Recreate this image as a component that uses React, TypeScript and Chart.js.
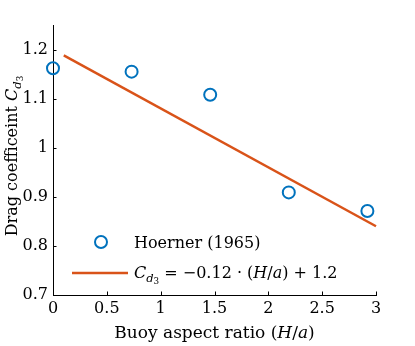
import React, { useEffect, useRef } from "react";
import { Chart, registerables } from "chart.js";

Chart.register(...registerables);

const aspectRatio = [0, 0.73, 1.46, 2.19, 2.92];
const dragCoeff = [1.162, 1.155, 1.108, 0.909, 0.871];
const fitX = [0.1, 3];
const fitY = [1.188, 0.84];
const xTicks = [0, 0.5, 1, 1.5, 2, 2.5, 3];
const yTicks = [0.7, 0.8, 0.9, 1, 1.1, 1.2];

const BLUE = "#0072BD";
const ORANGE = "#D95319";
const FONT = "'DejaVu Serif', 'Liberation Serif', serif";

type Seg = { t: string; it?: boolean; lvl?: number };

function segFont(s: Seg, size: number) {
  const lvl = s.lvl || 0;
  const sz = lvl === 0 ? size : lvl === 1 ? size * 0.72 : size * 0.55;
  return `${s.it ? "italic " : ""}${sz}px ${FONT}`;
}
function segDy(s: Seg, size: number) {
  const lvl = s.lvl || 0;
  return lvl === 0 ? 0 : lvl === 1 ? size * 0.22 : size * 0.36;
}
function richWidth(ctx: CanvasRenderingContext2D, segs: Seg[], size: number) {
  let w = 0;
  for (const s of segs) {
    ctx.font = segFont(s, size);
    w += ctx.measureText(s.t).width;
  }
  return w;
}
function drawRich(
  ctx: CanvasRenderingContext2D,
  segs: Seg[],
  x: number,
  y: number,
  size: number,
  align: "left" | "center"
) {
  let cx = align === "center" ? x - richWidth(ctx, segs, size) / 2 : x;
  ctx.textAlign = "left";
  ctx.textBaseline = "alphabetic";
  ctx.fillStyle = "#000";
  for (const s of segs) {
    ctx.font = segFont(s, size);
    ctx.fillText(s.t, cx, y + segDy(s, size));
    cx += ctx.measureText(s.t).width;
  }
}

const yTitle: Seg[] = [
  { t: "Drag coefficeint " },
  { t: "C", it: true },
  { t: "d", it: true, lvl: 1 },
  { t: "3", lvl: 2 },
];
const xTitle: Seg[] = [
  { t: "Buoy aspect ratio (" },
  { t: "H", it: true },
  { t: "/" },
  { t: "a", it: true },
  { t: ")" },
];
const legend1: Seg[] = [{ t: "Hoerner (1965)" }];
const legend2: Seg[] = [
  { t: "C", it: true },
  { t: "d", it: true, lvl: 1 },
  { t: "3", lvl: 2 },
  { t: " = \u22120.12 \u00b7 (" },
  { t: "H", it: true },
  { t: "/" },
  { t: "a", it: true },
  { t: ") + 1.2" },
];

const decor = {
  id: "decor",
  afterDraw(chart: any) {
    const ctx = chart.ctx as CanvasRenderingContext2D;
    const xs = chart.scales.x;
    const ys = chart.scales.y;
    const area = chart.chartArea;
    ctx.save();
    // inward tick marks
    ctx.strokeStyle = "#000";
    ctx.lineWidth = 1;
    ctx.beginPath();
    for (const v of xTicks) {
      const px = Math.round(xs.getPixelForValue(v)) + 0.5;
      ctx.moveTo(px, area.bottom);
      ctx.lineTo(px, area.bottom - 3.5);
    }
    for (const v of yTicks) {
      const py = Math.round(ys.getPixelForValue(v)) + 0.5;
      ctx.moveTo(area.left, py);
      ctx.lineTo(area.left + 3.5, py);
    }
    ctx.stroke();
    // axis titles
    drawRich(ctx, xTitle, (area.left + area.right) / 2, 338, 17, "center");
    ctx.save();
    ctx.translate(17, 156);
    ctx.rotate(-Math.PI / 2);
    drawRich(ctx, yTitle, 0, 0, 16, "center");
    ctx.restore();
    // legend
    ctx.strokeStyle = BLUE;
    ctx.lineWidth = 2;
    ctx.beginPath();
    ctx.arc(101, 242, 6, 0, Math.PI * 2);
    ctx.stroke();
    drawRich(ctx, legend1, 134, 248, 16, "left");
    ctx.strokeStyle = ORANGE;
    ctx.lineWidth = 2.5;
    ctx.beginPath();
    ctx.moveTo(72, 273);
    ctx.lineTo(128, 273);
    ctx.stroke();
    drawRich(ctx, legend2, 134, 278, 16, "left");
    ctx.restore();
  },
};

export default function App() {
  const ref = useRef<HTMLCanvasElement | null>(null);
  useEffect(() => {
    if (!ref.current) return;
    const chart = new Chart(ref.current, {
      type: "scatter",
      data: {
        datasets: [
          {
            label: "Hoerner (1965)",
            data: aspectRatio.map((x, i) => ({ x, y: dragCoeff[i] })),
            showLine: false,
            pointRadius: 6,
            pointBorderWidth: 2,
            pointBorderColor: BLUE,
            pointBackgroundColor: "rgba(0,0,0,0)",
            clip: false as any,
          },
          {
            label: "fit",
            data: fitX.map((x, i) => ({ x, y: fitY[i] })),
            showLine: true,
            borderColor: ORANGE,
            borderWidth: 2.5,
            pointRadius: 0,
            clip: false as any,
          },
        ],
      },
      options: {
        responsive: false,
        animation: false,
        layout: { padding: { top: 25, right: 39, left: 0, bottom: 0 } },
        plugins: { legend: { display: false }, tooltip: { enabled: false } },
        scales: {
          x: {
            type: "linear",
            min: 0,
            max: 3,
            afterFit: (s: any) => {
              s.height = 51;
            },
            afterBuildTicks: (s: any) => {
              s.ticks = xTicks.map((v) => ({ value: v }));
            },
            ticks: {
              color: "#000",
              padding: 4,
              maxRotation: 0,
              font: { family: FONT, size: 16 },
              callback: (v: any) => String(+Number(v).toFixed(1)),
            },
            grid: { drawOnChartArea: false, drawTicks: false },
            border: { display: true, color: "#000", width: 1 },
          },
          y: {
            type: "linear",
            min: 0.7,
            max: 1.25,
            afterFit: (s: any) => {
              s.width = 53;
            },
            afterBuildTicks: (s: any) => {
              s.ticks = yTicks.map((v) => ({ value: v }));
            },
            ticks: {
              color: "#000",
              padding: 5,
              font: { family: FONT, size: 16 },
              callback: (v: any) => String(+Number(v).toFixed(1)),
            },
            grid: { drawOnChartArea: false, drawTicks: false },
            border: { display: true, color: "#000", width: 1 },
          },
        },
      },
      plugins: [decor],
    });
    return () => chart.destroy();
  }, []);
  return (
    <div style={{ position: "absolute", left: 0, top: 0, width: 415, height: 346, background: "#fff" }}>
      <canvas ref={ref} width={415} height={346} />
    </div>
  );
}
